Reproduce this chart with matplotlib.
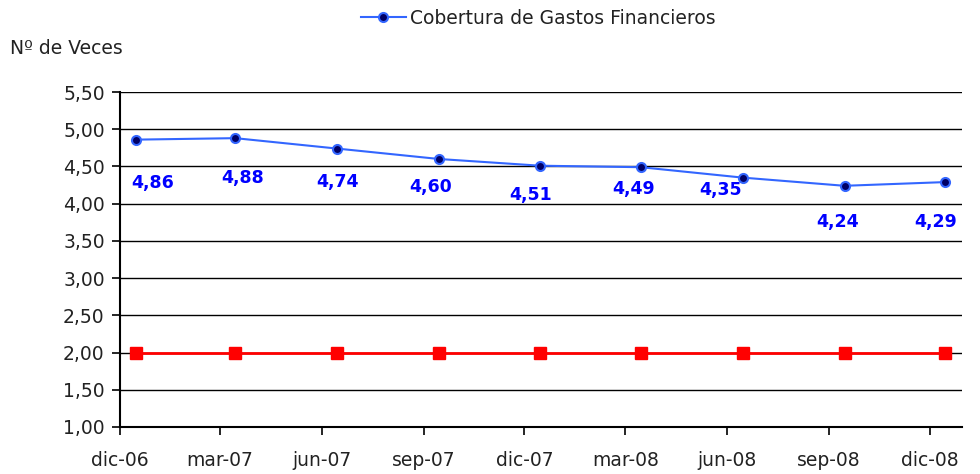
import matplotlib
matplotlib.use("Agg")
import matplotlib.pyplot as plt
import matplotlib.dates as mdates
from datetime import datetime

# ---- data ----
tick_labels = ["dic-06", "mar-07", "jun-07", "sep-07", "dic-07",
               "mar-08", "jun-08", "sep-08", "dic-08"]
tick_dates = [datetime(2006, 12, 1), datetime(2007, 3, 1), datetime(2007, 6, 1),
              datetime(2007, 9, 1), datetime(2007, 12, 1), datetime(2008, 3, 1),
              datetime(2008, 6, 1), datetime(2008, 9, 1), datetime(2008, 12, 1)]
point_dates = [datetime(2006, 12, 15), datetime(2007, 3, 15), datetime(2007, 6, 15),
               datetime(2007, 9, 15), datetime(2007, 12, 15), datetime(2008, 3, 15),
               datetime(2008, 6, 15), datetime(2008, 9, 15), datetime(2008, 12, 15)]
cobertura = [4.86, 4.88, 4.74, 4.60, 4.51, 4.49, 4.35, 4.24, 4.29]
limite = [2.00, 2.00, 2.00, 2.00, 2.00, 2.00, 2.00, 2.00, 2.00]
series_name = "Cobertura de Gastos Financieros"
y_label = "Nº de Veces"

# label offsets (points) relative to each data point
label_offsets = [(12, -31), (5, -29), (0, -24), (-6, -20), (-7, -21),
                 (-5, -16), (-16, -9), (-5, -26), (-7, -29)]

plt.rcParams['font.family'] = ['DejaVu Sans']
TXT = "#222222"
FS = 13.5

fig = plt.figure(figsize=(9.8, 4.74), dpi=100)
ax = fig.add_axes([120 / 980, (474 - 427) / 474, (962 - 120) / 980, (427 - 92) / 474])

ax.set_ylim(1.0, 5.5)
ax.set_xlim(datetime(2006, 12, 1), datetime(2008, 12, 30))
yt = [1.0 + 0.5 * i for i in range(10)]
ax.set_yticks(yt)
ax.set_yticklabels([f"{v:.2f}".replace(".", ",") for v in yt], fontsize=FS, color=TXT)
ax.set_xticks(mdates.date2num(tick_dates))
ax.set_xticklabels(tick_labels, fontsize=FS, color=TXT)

for v in yt[1:]:
    ax.axhline(v, color="black", lw=1.0, zorder=1)

for s in ["top", "right"]:
    ax.spines[s].set_visible(False)
ax.spines["left"].set_linewidth(1.5)
ax.spines["bottom"].set_linewidth(1.5)
ax.tick_params(axis="both", direction="out", length=6, width=1.2, color="black")
ax.tick_params(axis="x", pad=11)
ax.tick_params(axis="y", pad=5)

ax.plot(point_dates, limite, color="#FF0000", lw=2.0, marker="s", markersize=8,
        markerfacecolor="#FF0000", markeredgecolor="#FF0000", zorder=3)
line, = ax.plot(point_dates, cobertura, color="#3366FF", lw=1.5, marker="o", markersize=6.5,
                markerfacecolor="#000066", markeredgecolor="#3366FF", markeredgewidth=1.5,
                zorder=4, label=series_name)

for d, v, off in zip(point_dates, cobertura, label_offsets):
    ax.annotate(f"{v:.2f}".replace(".", ","), (mdates.date2num(d), v), xytext=off,
                textcoords="offset points", ha="center", va="center",
                fontsize=12.5, fontweight="bold", color="#0000FF", zorder=5)

fig.legend(handles=[line], loc="center", bbox_to_anchor=(538 / 980, 1 - 18 / 474),
           frameon=False, fontsize=FS, handlelength=2.4, handletextpad=0.2,
           labelcolor=TXT)
fig.text(10 / 980, 1 - 48 / 474, y_label, fontsize=FS, ha="left", va="center", color=TXT)

fig.savefig("out.png", dpi=100)
